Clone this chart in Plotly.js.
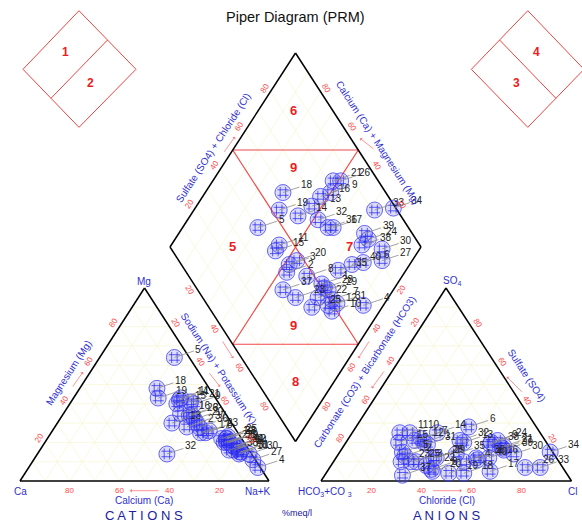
<!DOCTYPE html>
<html>
<head>
<meta charset="utf-8">
<script src="https://cdn.plot.ly/plotly-3.0.1.min.js"></script>
<style>
html,body{margin:0;padding:0;background:#fff;}
#chart{width:582px;height:523px;}
</style>
</head>
<body>
<div id="chart"></div>
<script>
// Sample identifiers and major-ion composition (% meq/l)
const sampleIds = ['1','2','3','4','5','6','7','8','9','10','11','12','13','14','15','16','17','18','19','20',
                   '21','22','23','24','25','26','27','28','29','30','31','32','33','34','35','36','37','38','39','40'];
const cationCa  = [ 8,19,14, 1, 6, 4, 6,13,10, 5,14, 4,24,15,17,18,15,21,23,14,11, 8,11, 5, 5,15, 1, 6, 6, 1, 4,34, 6, 4, 7,14,14, 8, 6, 5];
const cationMg  = [22,28,34, 7,64,15,16,25,40,14,43,18,30,42,40,35,25,48,43,32,41,20,26,18,23,34,11,22,20,14,15,14,22,17,20,28,30,16,20,18];
const cationNaK = [70,53,52,92,30,81,78,62,50,81,43,78,46,43,43,47,60,31,34,54,48,72,63,77,72,51,88,72,74,85,81,52,72,79,73,58,56,76,74,77];
const anionHCO3 = [49,60,57,38,60,27,49,53,22,52,56,52,33,41,59,27,30,41,47,53,18,54,63,19,59,15,19,49,48,16,48,34, 9, 1,39,32,66,23,19,32];
const anionSO4  = [20,13,10,10,15,28,22, 6,20,25,25,21,20,25,20,12, 5, 4, 4, 5,18, 8,10,21,10, 7,17,12,12,14,19,21, 7,15,14,12, 3,19,16,11];
const anionCl   = [31,27,33,52,25,45,29,41,58,23,19,27,47,34,21,61,65,55,49,42,64,38,27,60,31,78,64,39,40,70,33,45,84,84,47,56,31,58,65,57];
const tickValues = [20, 40, 60, 80];
const diamondZones = ['6','9','5','7','9','8'];
const keyZones = ['1','2','4','3'];

// Frame geometry (page pixels)
const CAT = {a:[20,481], b:[269,481], c:[144.5,288]};   // Ca, Na+K, Mg
const ANI = {a:[321,481], b:[571.5,481], c:[446,288]};  // HCO3+CO3, Cl, SO4
const DL = [170,247], DT = [295.5,53], DR = [421,247], DB = [295.5,441.5];

const lerp = (p,q,t)=>[p[0]+(q[0]-p[0])*t, p[1]+(q[1]-p[1])*t];
function tern(T, pa, pb, pc){
  const s = pa+pb+pc;
  return [(T.a[0]*pa+T.b[0]*pb+T.c[0]*pc)/s, (T.a[1]*pa+T.b[1]*pb+T.c[1]*pc)/s];
}
function diamondXY(nakFrac, anionFrac){
  const m = 1-nakFrac;
  return [DB[0]+m*(DL[0]-DB[0])+anionFrac*(DR[0]-DB[0]),
          DB[1]+m*(DL[1]-DB[1])+anionFrac*(DR[1]-DB[1])];
}
function segTrace(segs, color, width){
  const x=[], y=[];
  segs.forEach(([p,q])=>{x.push(p[0],q[0],null); y.push(p[1],q[1],null);});
  return {type:'scatter', mode:'lines', x, y, line:{color, width}, hoverinfo:'skip', showlegend:false};
}
function polySegs(pts){
  const s=[]; for(let i=0;i<pts.length;i++) s.push([pts[i], pts[(i+1)%pts.length]]); return s;
}

// Pale grid at 10 % steps
const gridSegs = [];
[CAT, ANI].forEach(T=>{
  for(let i=1;i<10;i++){
    const t=i/10;
    gridSegs.push([lerp(T.a,T.c,t), lerp(T.b,T.c,t)]);
    gridSegs.push([lerp(T.a,T.b,t), lerp(T.c,T.b,t)]);
    gridSegs.push([lerp(T.b,T.a,t), lerp(T.c,T.a,t)]);
  }
});
for(let i=1;i<10;i++){
  const t=i/10;
  gridSegs.push([lerp(DL,DT,t), lerp(DB,DR,t)]);
  gridSegs.push([lerp(DL,DB,t), lerp(DT,DR,t)]);
}

// Outlines
const outlineSegs = [
  ...polySegs([CAT.a, CAT.b, CAT.c]),
  ...polySegs([ANI.a, ANI.b, ANI.c]),
  ...polySegs([DL, DT, DR, DB])
];

// Hydrochemical facies boundaries inside the diamond
const uL = lerp(DL,DT,0.5), uR = lerp(DR,DT,0.5), lL = lerp(DL,DB,0.5), lR = lerp(DR,DB,0.5);
const zoneSegs = [[uL,uR],[lL,lR],[uL,lR],[uR,lL]];

// Key diagrams in the upper corners
const kL = {t:[79,10.7], l:[23,69.3], r:[136,69.3], b:[79,127.3]};
const kR = {t:[527.8,10.7], l:[471.4,69.3], r:[584,69.3], b:[527.8,127.3]};
const keySegs = [
  ...polySegs([kL.t,kL.r,kL.b,kL.l]), [lerp(kL.t,kL.r,0.5), lerp(kL.l,kL.b,0.5)],
  ...polySegs([kR.t,kR.r,kR.b,kR.l]), [lerp(kR.t,kR.l,0.5), lerp(kR.r,kR.b,0.5)]
];

// Sample positions
const catPts = [], aniPts = [], diaPts = [];
sampleIds.forEach((id,i)=>{
  catPts.push(tern(CAT, cationCa[i], cationNaK[i], cationMg[i]));
  aniPts.push(tern(ANI, anionHCO3[i], anionCl[i], anionSO4[i]));
  const cs = cationCa[i]+cationMg[i]+cationNaK[i];
  const as = anionHCO3[i]+anionSO4[i]+anionCl[i];
  diaPts.push(diamondXY(cationNaK[i]/cs, (anionSO4[i]+anionCl[i])/as));
});
const allPts = [...catPts, ...aniPts, ...diaPts];

const traces = [
  segTrace(gridSegs, '#f7f7d2', 0.7),
  segTrace(zoneSegs, '#f04848', 1.2),
  segTrace(keySegs, '#ee4444', 1),
  segTrace(outlineSegs, '#000000', 1.5),
  {type:'scatter', mode:'markers', x:allPts.map(p=>p[0]), y:allPts.map(p=>p[1]),
   marker:{symbol:'circle', size:16, color:'rgba(100,100,255,0.22)', line:{color:'rgba(55,55,245,0.75)', width:1}},
   hoverinfo:'skip', showlegend:false},
  {type:'scatter', mode:'markers', x:allPts.map(p=>p[0]), y:allPts.map(p=>p[1]),
   marker:{symbol:'hash-open', size:11, color:'rgba(45,45,235,0.75)', line:{color:'rgba(45,45,235,0.75)', width:1}},
   hoverinfo:'skip', showlegend:false}
];

const FONT = 'Liberation Sans, Arial, sans-serif';
const BLUE = '#2f2fd0';
const NAVY = '#2020a0';
const annotations = [];
function txt(x,y,text,opts){
  annotations.push(Object.assign({x, y, xref:'x', yref:'y', text, showarrow:false,
    font:{family:FONT, size:10, color:BLUE}}, opts||{}));
}

// Point labels with leader lines
const labelSets = [catPts, aniPts, diaPts];
labelSets.forEach(pts=>{
  pts.forEach((p,i)=>{
    annotations.push({x:p[0], y:p[1], xref:'x', yref:'y', text:sampleIds[i], showarrow:true,
      ax:24, ay:-8, arrowhead:0, arrowwidth:0.8, arrowcolor:'#8a8a8a', standoff:0,
      font:{family:FONT, size:10, color:'#222'}});
  });
});

// Edge tick labels
function edgeTicks(p0, p1, off, angle){
  tickValues.forEach(v=>{
    const q = lerp(p0, p1, v/100);
    txt(q[0]+off[0], q[1]+off[1], String(v), {textangle:angle, font:{family:FONT, size:8, color:'#ff4a4a'}});
  });
}
edgeTicks(CAT.a, CAT.c, [-5.9,-3.8], -57);
edgeTicks(CAT.c, CAT.b, [5.9,-3.8], 57);
edgeTicks(CAT.b, CAT.a, [0,9], 0);
edgeTicks(ANI.a, ANI.b, [0,9], 0);
edgeTicks(ANI.b, ANI.c, [5.9,-3.8], 57);
edgeTicks(ANI.c, ANI.a, [-5.9,-3.8], -57);
edgeTicks(DL, DT, [-5.9,-3.8], -57);
edgeTicks(DR, DT, [5.9,-3.8], 57);
edgeTicks(DL, DB, [-5.9,3.8], 57);
edgeTicks(DR, DB, [5.9,3.8], -57);

// Axis titles
txt(68,373,'Magnesium (Mg)',{textangle:-57});
txt(219,368,'Sodium (Na) + Potassium (K)',{textangle:57});
txt(144,500,'Calcium (Ca)');
txt(447,500,'Chloride (Cl)');
txt(527,375,'Sulfate (SO4)',{textangle:57});
txt(364,372,'Carbonate (CO3) + Bicarbonate (HCO3)',{textangle:-57});
txt(212.5,148,'Sulfate (SO4) + Chloride (Cl)',{textangle:-57});
txt(378,142,'Calcium (Ca) + Magnesium (Mg)',{textangle:57});

// Corner labels
txt(144,281,'Mg');
txt(20,491,'Ca');
txt(258,491,'Na+K');
txt(452,281,'SO<sub>4</sub>');
txt(325,492,'HCO<sub>3</sub>+CO <sub>3</sub>');
txt(572,491,'Cl');
txt(144,515,'C A T I O N S',{font:{family:FONT, size:13, color:NAVY}});
txt(447,515,'A N I O N S',{font:{family:FONT, size:13, color:NAVY}});
txt(297,513,'%meq/l',{font:{family:FONT, size:9, color:NAVY}});

// Direction arrows
function arrow(tail, head){
  annotations.push({x:head[0], y:head[1], xref:'x', yref:'y', ax:tail[0], ay:tail[1], axref:'x', ayref:'y',
    text:'', showarrow:true, arrowhead:1, arrowsize:0.8, arrowwidth:0.8, arrowcolor:'#ff7a7a', standoff:0});
}
arrow([71.7,388],[83,372]);
arrow([208.3,371.7],[220,386.7]);
arrow([221.7,340],[233.3,358.3]);
arrow([160,490.7],[130,490.7]);
arrow([431.7,490.7],[461.7,490.7]);
arrow([523.3,393.3],[506.7,376.7]);
arrow([385,370],[371.7,388.3]);
arrow([370,340],[358.3,358.3]);
arrow([223.3,153.3],[235,136.7]);
arrow([375,150],[360,138.3]);

// Zone numbers
const zonePos = [[293,110],[293,167],[232,246],[349,246],[293,325],[295,381]];
diamondZones.forEach((z,i)=>txt(zonePos[i][0], zonePos[i][1], '<b>'+z+'</b>', {font:{family:FONT, size:13, color:'#ee1c1c'}}));
const keyPos = [[65,52],[90,83],[536,52],[516,83]];
keyZones.forEach((z,i)=>txt(keyPos[i][0], keyPos[i][1], '<b>'+z+'</b>', {font:{family:FONT, size:12, color:'#ee1c1c'}}));

// Title
txt(295,17,'Piper Diagram (PRM)',{font:{family:FONT, size:14.5, color:'#111'}});

const layout = {
  width:582, height:523, autosize:false,
  margin:{l:0,r:0,t:0,b:0},
  paper_bgcolor:'#fff', plot_bgcolor:'#fff',
  xaxis:{range:[0,582], visible:false, fixedrange:true},
  yaxis:{range:[523,0], visible:false, fixedrange:true},
  showlegend:false,
  annotations
};
Plotly.newPlot('chart', traces, layout, {staticPlot:true, displayModeBar:false});
</script>
</body>
</html>
